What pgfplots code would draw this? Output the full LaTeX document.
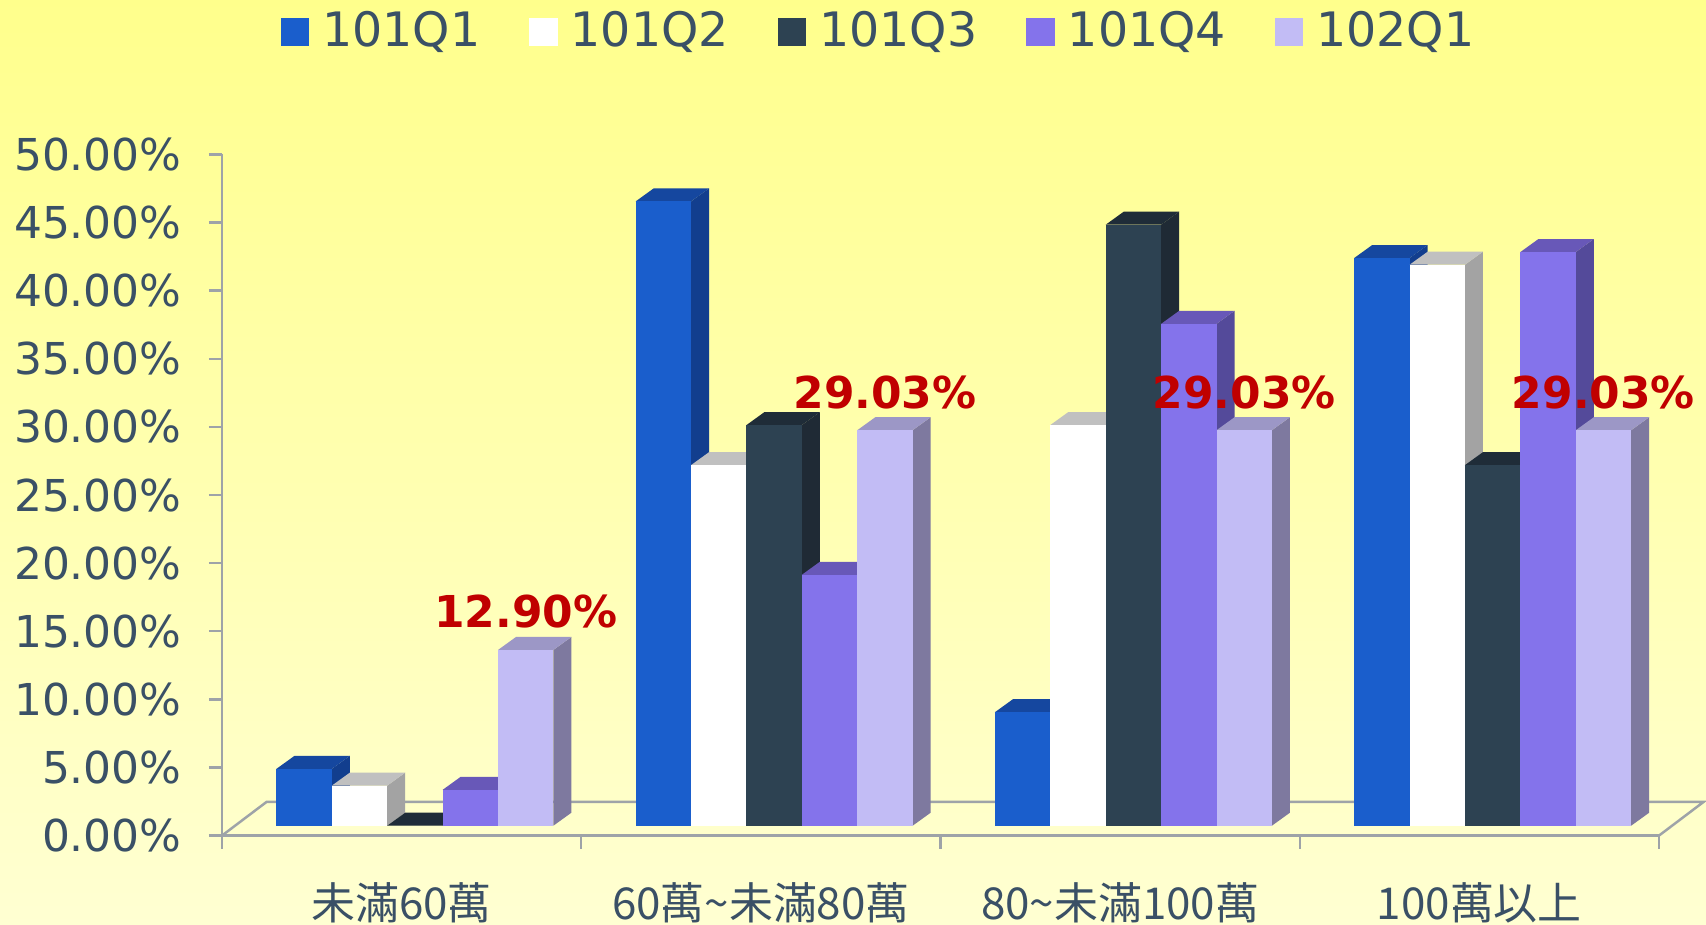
\documentclass[border=0pt]{standalone}
\usepackage{pgfplots}
\usepackage{pgfplotstable}
\pgfplotsset{compat=1.18}
\usepackage{fontspec}
\setmainfont{DejaVu Sans}
\newfontfamily\cjk{Noto Sans CJK TC}
\definecolor{bgtop}{HTML}{FFFF8C}
\definecolor{bgbot}{HTML}{FFFFD2}
\definecolor{txt}{HTML}{3A5066}
\definecolor{axg}{HTML}{9EA3A8}
\definecolor{labred}{HTML}{C00000}
\definecolor{aF}{HTML}{1A5ECC}\definecolor{aT}{HTML}{15479F}\definecolor{aS}{HTML}{123E8E}
\definecolor{bF}{HTML}{FFFFFF}\definecolor{bT}{HTML}{C0C0C0}\definecolor{bS}{HTML}{A3A3A3}
\definecolor{cF}{HTML}{2D4252}\definecolor{cT}{HTML}{1F2C38}\definecolor{cS}{HTML}{1F2A35}
\definecolor{dF}{HTML}{8473EB}\definecolor{dT}{HTML}{6858B8}\definecolor{dS}{HTML}{544A9A}
\definecolor{eF}{HTML}{C2BCF5}\definecolor{eT}{HTML}{9C97C6}\definecolor{eS}{HTML}{7E799F}

% #1 horizontal offset (mm) of the bar centre, #2 front, #3 top, #4 side colour
\newcommand\barbox[4]{%
  \pgfmathsetlengthmacro\bxl{#1 mm - 2.77mm}%
  \pgfmathsetlengthmacro\bxr{#1 mm + 2.77mm}%
  \pgfmathsetlengthmacro\bxlb{#1 mm - 0.97mm}%
  \pgfmathsetlengthmacro\bxrb{#1 mm + 4.57mm}%
  \pgfmathsetlengthmacro\byt{0.99mm}%
  \pgfmathsetlengthmacro\byb{0.99mm - \rawy*1.3622mm}%
  \pgfmathsetlengthmacro\bytb{2.29mm}%
  \pgfmathsetlengthmacro\bybb{2.29mm - \rawy*1.3622mm}%
  \pgfsetfillcolor{#4}%
  \pgfpathmoveto{\pgfpoint{\bxr}{\byt}}%
  \pgfpathlineto{\pgfpoint{\bxrb}{\bytb}}%
  \pgfpathlineto{\pgfpoint{\bxrb}{\bybb}}%
  \pgfpathlineto{\pgfpoint{\bxr}{\byb}}%
  \pgfpathclose\pgfusepath{fill}%
  \pgfsetfillcolor{#3}%
  \pgfpathmoveto{\pgfpoint{\bxl}{\byt}}%
  \pgfpathlineto{\pgfpoint{\bxlb}{\bytb}}%
  \pgfpathlineto{\pgfpoint{\bxrb}{\bytb}}%
  \pgfpathlineto{\pgfpoint{\bxr}{\byt}}%
  \pgfpathclose\pgfusepath{fill}%
  \pgfsetfillcolor{#2}%
  \pgfpathrectanglecorners{\pgfpoint{\bxl}{\byb}}{\pgfpoint{\bxr}{\byt}}%
  \pgfusepath{fill}%
}
\pgfdeclareplotmark{barA}{\barbox{-9.75}{aF}{aT}{aS}}
\pgfdeclareplotmark{barB}{\barbox{-4.21}{bF}{bT}{bS}}
\pgfdeclareplotmark{barC}{\barbox{1.33}{cF}{cT}{cS}}
\pgfdeclareplotmark{barD}{\barbox{6.87}{dF}{dT}{dS}}
\pgfdeclareplotmark{barE}{\barbox{12.41}{eF}{eT}{eS}}

% 101Q1
\pgfplotstableread{
x y
0.5 4.17
1.5 45.83
2.5 8.33
3.5 41.67
}\qa
% 101Q2
\pgfplotstableread{
x y
0.5 2.94
1.5 26.47
2.5 29.41
3.5 41.18
}\qb
% 101Q3
\pgfplotstableread{
x y
0.5 0.00
1.5 29.41
2.5 44.12
3.5 26.47
}\qc
% 101Q4
\pgfplotstableread{
x y
0.5 2.63
1.5 18.42
2.5 36.84
3.5 42.11
}\qd
% 102Q1
\pgfplotstableread{
x y
0.5 12.90
1.5 29.03
2.5 29.03
3.5 29.03
}\qe

\begin{document}
\begin{tikzpicture}
\useasboundingbox (0,0) rectangle (170.6mm,92.5mm);
\shade[top color=bgtop, bottom color=bgbot] (0,0) rectangle (170.6mm,92.5mm);
\begin{axis}[
  at={(22.2mm,8.94mm)}, anchor=south west,
  scale only axis, width=143.7mm, height=68.11mm,
  xmin=0, xmax=4, ymin=0, ymax=50,
  clip=false,
  axis lines*=left,
  axis line style={draw=axg, line width=0.7pt},
  tick style={draw=axg, line width=0.7pt},
  tick align=outside, major tick length=1.3mm,
  xtick={0,1,2,3,4},
  x tick label as interval,
  xticklabels={未滿60萬, 60萬\textasciitilde 未滿80萬, 80\textasciitilde 未滿100萬, 100萬以上},
  xticklabel style={font=\cjk\fontsize{12.5pt}{15pt}\selectfont, text=txt, anchor=center, yshift=-5.4mm},
  ytick={0,5,...,50},
  /pgf/number format/assume math mode=true,
  yticklabel={\pgfmathprintnumber[fixed,fixed zerofill,precision=2]{\tick}\%},
  yticklabel style={font=\fontsize{12.5pt}{14pt}\selectfont, text=txt, xshift=-1.5mm},
  legend columns=5,
  legend cell align=left,
  legend style={at={(axis description cs:0.0404,1.18)}, anchor=west, draw=none, fill=none,
    inner sep=0pt, font=\fontsize{13.5pt}{15pt}\selectfont, text=txt,
    /tikz/every odd column/.append style={column sep=0.6mm},
    /tikz/every even column/.append style={column sep=4.2mm}},
]
\draw[axg, line width=0.7pt] (axis cs:0,0) -- ++(4.46mm,3.37mm) -- ([xshift=4.46mm,yshift=3.37mm]axis cs:4,0) -- (axis cs:4,0);

\addlegendimage{legend image code/.code={\fill[aF] (0mm,-1.35mm) rectangle (2.7mm,1.35mm);}}
\addlegendentry{101Q1}
\addlegendimage{legend image code/.code={\fill[bF] (0mm,-1.35mm) rectangle (2.7mm,1.35mm);}}
\addlegendentry{101Q2}
\addlegendimage{legend image code/.code={\fill[cF] (0mm,-1.35mm) rectangle (2.7mm,1.35mm);}}
\addlegendentry{101Q3}
\addlegendimage{legend image code/.code={\fill[dF] (0mm,-1.35mm) rectangle (2.7mm,1.35mm);}}
\addlegendentry{101Q4}
\addlegendimage{legend image code/.code={\fill[eF] (0mm,-1.35mm) rectangle (2.7mm,1.35mm);}}
\addlegendentry{102Q1}

\addplot[only marks, mark=barA, forget plot, visualization depends on={\thisrow{y}\as\rawy}] table[x=x,y=y]{\qa};
\addplot[only marks, mark=barB, forget plot, visualization depends on={\thisrow{y}\as\rawy}] table[x=x,y=y]{\qb};
\addplot[only marks, mark=barC, forget plot, visualization depends on={\thisrow{y}\as\rawy}] table[x=x,y=y]{\qc};
\addplot[only marks, mark=barD, forget plot, visualization depends on={\thisrow{y}\as\rawy}] table[x=x,y=y]{\qd};
\addplot[only marks, mark=barE, forget plot, visualization depends on={\thisrow{y}\as\rawy},
  point meta=y,
  nodes near coords={\pgfmathprintnumber[fixed,fixed zerofill,precision=2]{\pgfplotspointmeta}\%},
  every node near coord/.append style={anchor=center, xshift=12.41mm, yshift=4.8mm,
    font=\bfseries\fontsize{12.5pt}{15pt}\selectfont, text=labred}]
  table[x=x,y=y]{\qe};
\end{axis}
\end{tikzpicture}
\end{document}
